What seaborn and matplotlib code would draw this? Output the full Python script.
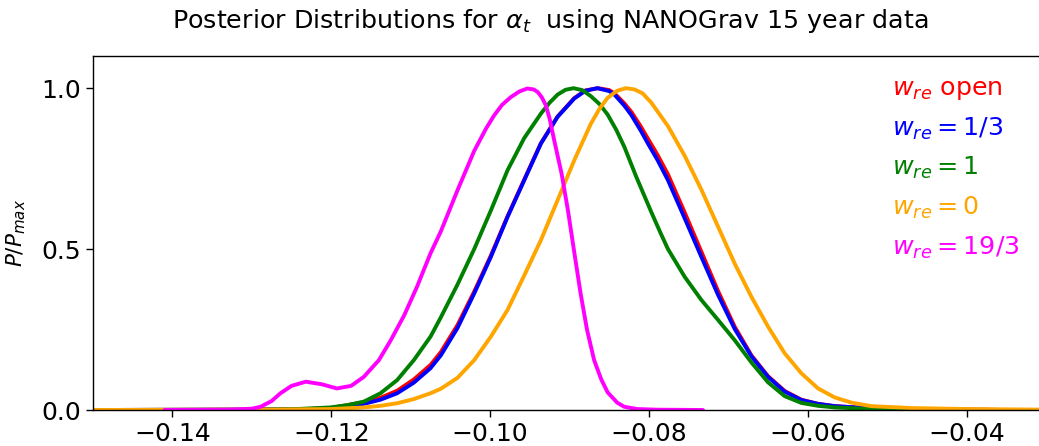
import matplotlib
matplotlib.use("Agg")
import matplotlib.pyplot as plt
import seaborn as sns

# ---- data ----
labels = [r"$w_{re}$ open", r"$w_{re} = 1/3$", r"$w_{re} = 1$", r"$w_{re} = 0$", r"$w_{re} = 19/3$"]
colors = ["red", "blue", "green", "orange", "magenta"]

x_open = [-0.1500, -0.1300, -0.1243, -0.1201, -0.1159, -0.1138, -0.1117, -0.1096, -0.1075, -0.1062,
          -0.1041, -0.1020, -0.0999, -0.0978, -0.0957, -0.0936, -0.0915, -0.0894, -0.0880, -0.0864,
          -0.0850, -0.0843, -0.0831, -0.0822, -0.0810, -0.0801, -0.0789, -0.0776, -0.0755, -0.0734,
          -0.0713, -0.0692, -0.0671, -0.0650, -0.0629, -0.0608, -0.0587, -0.0566, -0.0520, -0.0450,
          -0.0350]
y_open = [0.000, 0.001, 0.002, 0.006, 0.024, 0.038, 0.060, 0.095, 0.140, 0.180,
          0.264, 0.368, 0.480, 0.602, 0.716, 0.829, 0.912, 0.969, 0.993, 1.000,
          0.994, 0.983, 0.953, 0.926, 0.880, 0.842, 0.792, 0.732, 0.614, 0.492,
          0.370, 0.259, 0.170, 0.105, 0.059, 0.032, 0.019, 0.012, 0.005, 0.002,
          0.000]

x_13 = [-0.1500, -0.1300, -0.1243, -0.1201, -0.1159, -0.1138, -0.1117, -0.1096, -0.1075, -0.1062,
        -0.1041, -0.1020, -0.0999, -0.0978, -0.0957, -0.0936, -0.0915, -0.0894, -0.0880, -0.0865,
        -0.0850, -0.0843, -0.0831, -0.0822, -0.0810, -0.0801, -0.0789, -0.0776, -0.0755, -0.0734,
        -0.0713, -0.0692, -0.0671, -0.0650, -0.0629, -0.0608, -0.0587, -0.0566, -0.0520, -0.0450,
        -0.0350]
y_13 = [0.000, 0.001, 0.002, 0.005, 0.019, 0.032, 0.052, 0.085, 0.130, 0.170,
        0.255, 0.362, 0.476, 0.600, 0.714, 0.828, 0.911, 0.968, 0.992, 1.000,
        0.991, 0.979, 0.946, 0.916, 0.867, 0.827, 0.776, 0.714, 0.596, 0.476,
        0.358, 0.252, 0.167, 0.103, 0.057, 0.031, 0.019, 0.012, 0.005, 0.002,
        0.000]

x_1 = [-0.1500, -0.1300, -0.1243, -0.1201, -0.1180, -0.1159, -0.1138, -0.1117, -0.1096, -0.1075,
       -0.1062, -0.1041, -0.1020, -0.0999, -0.0978, -0.0957, -0.0936, -0.0925, -0.0915, -0.0905,
       -0.0895, -0.0884, -0.0873, -0.0862, -0.0852, -0.0841, -0.0831, -0.0816, -0.0797, -0.0785,
       -0.0776, -0.0755, -0.0734, -0.0713, -0.0692, -0.0671, -0.0650, -0.0629, -0.0608, -0.0587,
       -0.0566, -0.0520, -0.0450, -0.0350]
y_1 = [0.000, 0.001, 0.003, 0.008, 0.015, 0.026, 0.052, 0.093, 0.155, 0.228,
       0.288, 0.390, 0.500, 0.620, 0.745, 0.845, 0.921, 0.955, 0.980, 0.995,
       1.000, 0.994, 0.975, 0.950, 0.918, 0.870, 0.818, 0.725, 0.615, 0.548,
       0.500, 0.414, 0.342, 0.280, 0.217, 0.148, 0.086, 0.043, 0.022, 0.013,
       0.008, 0.003, 0.001, 0.000]

x_0 = [-0.1500, -0.1300, -0.1200, -0.1159, -0.1138, -0.1117, -0.1096, -0.1075, -0.1062, -0.1041,
       -0.1020, -0.0999, -0.0978, -0.0957, -0.0936, -0.0915, -0.0894, -0.0873, -0.0862, -0.0852,
       -0.0840, -0.0829, -0.0818, -0.0808, -0.0797, -0.0776, -0.0755, -0.0734, -0.0713, -0.0692,
       -0.0671, -0.0650, -0.0629, -0.0608, -0.0587, -0.0566, -0.0545, -0.0520, -0.0469, -0.0400,
       -0.0300]
y_0 = [0.000, 0.001, 0.003, 0.008, 0.013, 0.021, 0.034, 0.052, 0.066, 0.100,
       0.155, 0.228, 0.311, 0.418, 0.528, 0.652, 0.776, 0.890, 0.937, 0.970,
       0.992, 1.000, 0.996, 0.984, 0.955, 0.882, 0.790, 0.685, 0.570, 0.455,
       0.352, 0.259, 0.176, 0.114, 0.067, 0.039, 0.023, 0.012, 0.006, 0.003,
       0.001]

x_193 = [-0.1410, -0.1330, -0.1300, -0.1289, -0.1275, -0.1264, -0.1250, -0.1232, -0.1212, -0.1193,
         -0.1175, -0.1159, -0.1140, -0.1125, -0.1108, -0.1092, -0.1075, -0.1062, -0.1041, -0.1020,
         -0.1005, -0.0995, -0.0985, -0.0974, -0.0963, -0.0953, -0.0945, -0.0940, -0.0935, -0.0930,
         -0.0925, -0.0919, -0.0910, -0.0902, -0.0894, -0.0886, -0.0878, -0.0869, -0.0860, -0.0852,
         -0.0840, -0.0831, -0.0815, -0.0790, -0.0732]
y_193 = [0.000, 0.001, 0.004, 0.010, 0.028, 0.052, 0.075, 0.088, 0.080, 0.067,
         0.075, 0.103, 0.155, 0.217, 0.295, 0.383, 0.487, 0.555, 0.683, 0.805,
         0.875, 0.915, 0.948, 0.972, 0.990, 0.999, 0.996, 0.988, 0.972, 0.948,
         0.905, 0.835, 0.735, 0.621, 0.490, 0.362, 0.250, 0.155, 0.095, 0.055,
         0.023, 0.010, 0.003, 0.001, 0.000]

series_x = [x_open, x_13, x_1, x_0, x_193]
series_y = [y_open, y_13, y_1, y_0, y_193]

xticks = [-0.14, -0.12, -0.10, -0.08, -0.06, -0.04]
yticks = [0.0, 0.5, 1.0]

# ---- plot ----
sns.set_style("ticks")
plt.rcParams["font.family"] = ["DejaVu Sans"]
plt.rcParams["mathtext.fontset"] = "dejavusans"
plt.rcParams["text.color"] = "black"
plt.rcParams["axes.labelcolor"] = "black"

fig = plt.figure(figsize=(10.39, 4.46), dpi=100)
ax = fig.add_axes([93 / 1039, 36 / 446, (1046 - 93) / 1039, (410 - 56) / 446])

for xs, ys, c, lab in zip(series_x, series_y, colors, labels):
    sns.lineplot(x=xs, y=ys, color=c, linewidth=2.8, label=lab, ax=ax,
                 estimator=None, sort=False)

ax.set_xlim(-0.15, -0.03)
ax.set_ylim(0, 1.1)
ax.set_xticks(xticks)
ax.set_xticklabels([f"{t:.2f}".replace("-", "\u2212") for t in xticks])
ax.set_yticks(yticks)
ax.set_yticklabels([f"{t:.1f}" for t in yticks])
ax.tick_params(axis="both", labelsize=18, length=5, width=1, direction="out", colors="black")
for s in ax.spines.values():
    s.set_color("black")
    s.set_linewidth(1.0)

ax.set_ylabel(r"$P/P_{max}$", fontsize=15.5, labelpad=10, color="black")
ax.set_title(r"Posterior Distributions for $\alpha_t$  using NANOGrav 15 year data",
             fontsize=18.3, x=0.4795, pad=20, color="black")

leg = ax.legend(loc="upper left", bbox_to_anchor=(0.8385, 0.9435), frameon=False,
                handlelength=0, handletextpad=0, labelcolor="linecolor",
                fontsize=18.3, labelspacing=0.53, borderaxespad=0, borderpad=0)
for h in leg.legend_handles:
    h.set_visible(False)

fig.savefig("out.png", dpi=100)
